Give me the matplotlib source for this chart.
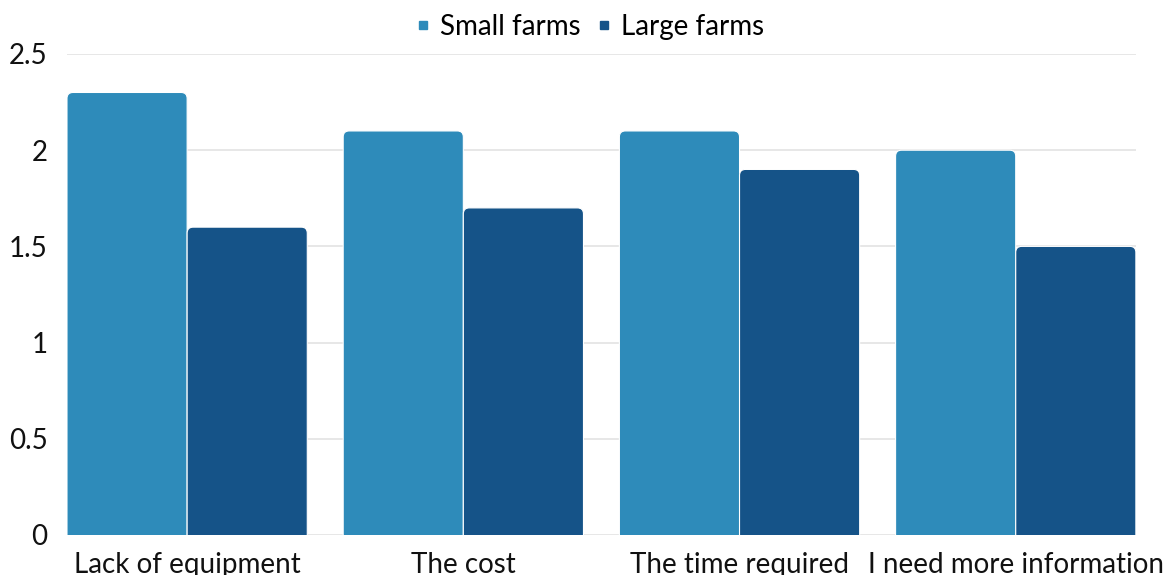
import matplotlib
matplotlib.use("Agg")
import matplotlib.pyplot as plt
from matplotlib.patches import FancyBboxPatch
from matplotlib.lines import Line2D

categories = ["Lack of equipment", "The cost", "The time required", "I need more information"]
small_farms = [2.3, 2.1, 2.1, 2.0]
large_farms = [1.6, 1.7, 1.9, 1.5]
yticks = [0, 0.5, 1, 1.5, 2, 2.5]
ytick_labels = ["0", "0.5", "1", "1.5", "2", "2.5"]

c_small = "#2e8bba"
c_large = "#155388"

plt.rcParams["font.family"] = ["Lato", "DejaVu Sans"]

fig = plt.figure(figsize=(11.65, 5.75), dpi=100)
ax = fig.add_axes([0.0575, 0.0696, 0.9175, 0.8365])

w = 0.435
x = list(range(len(categories)))
b1 = ax.bar([i - w / 2 for i in x], small_farms, w, color=c_small)
b2 = ax.bar([i + w / 2 for i in x], large_farms, w, color=c_large)

ax.set_xlim(-w, len(categories) - 1 + w)
ax.set_ylim(0, 2.5)

# swap plain bars for ones with rounded top corners
fig.canvas.draw()
px_x = ax.transData.transform((1, 0))[0] - ax.transData.transform((0, 0))[0]
px_y = ax.transData.transform((0, 1))[1] - ax.transData.transform((0, 0))[1]
r = 6 / px_x
aspect = px_x / px_y
for bars in (b1, b2):
    for b in bars:
        bx, by = b.get_x(), b.get_y()
        bw, bh = b.get_width(), b.get_height()
        b.set_visible(False)
        p = FancyBboxPatch((bx, by - 0.2), bw, bh + 0.2,
                           boxstyle=f"round,pad=0,rounding_size={r}",
                           mutation_aspect=aspect,
                           facecolor=b.get_facecolor(), edgecolor="white",
                           linewidth=0.8, zorder=3)
        p.set_clip_path(ax.patch)
        ax.add_patch(p)

ax.set_yticks(yticks)
ax.set_yticklabels(ytick_labels)
ax.set_xticks(x)
ax.set_xticklabels(categories)
ax.grid(axis="y", color="#e3e3e3", linewidth=1.2, zorder=0)
ax.set_axisbelow(True)
for s in ax.spines.values():
    s.set_visible(False)
ax.tick_params(length=0, labelsize=20, colors="#111111")
ax.tick_params(axis="y", pad=14)
ax.tick_params(axis="x", pad=12)

handles = [Line2D([], [], marker="s", linestyle="", color=c_small, markersize=5.5),
           Line2D([], [], marker="s", linestyle="", color=c_large, markersize=5.5)]
fig.legend(handles, ["Small farms", "Large farms"], loc="upper center",
           bbox_to_anchor=(0.506, 1.019), ncol=2, frameon=False, fontsize=20,
           handlelength=0.6, handletextpad=0.3, columnspacing=0.55)

fig.savefig("out.png", dpi=100)
